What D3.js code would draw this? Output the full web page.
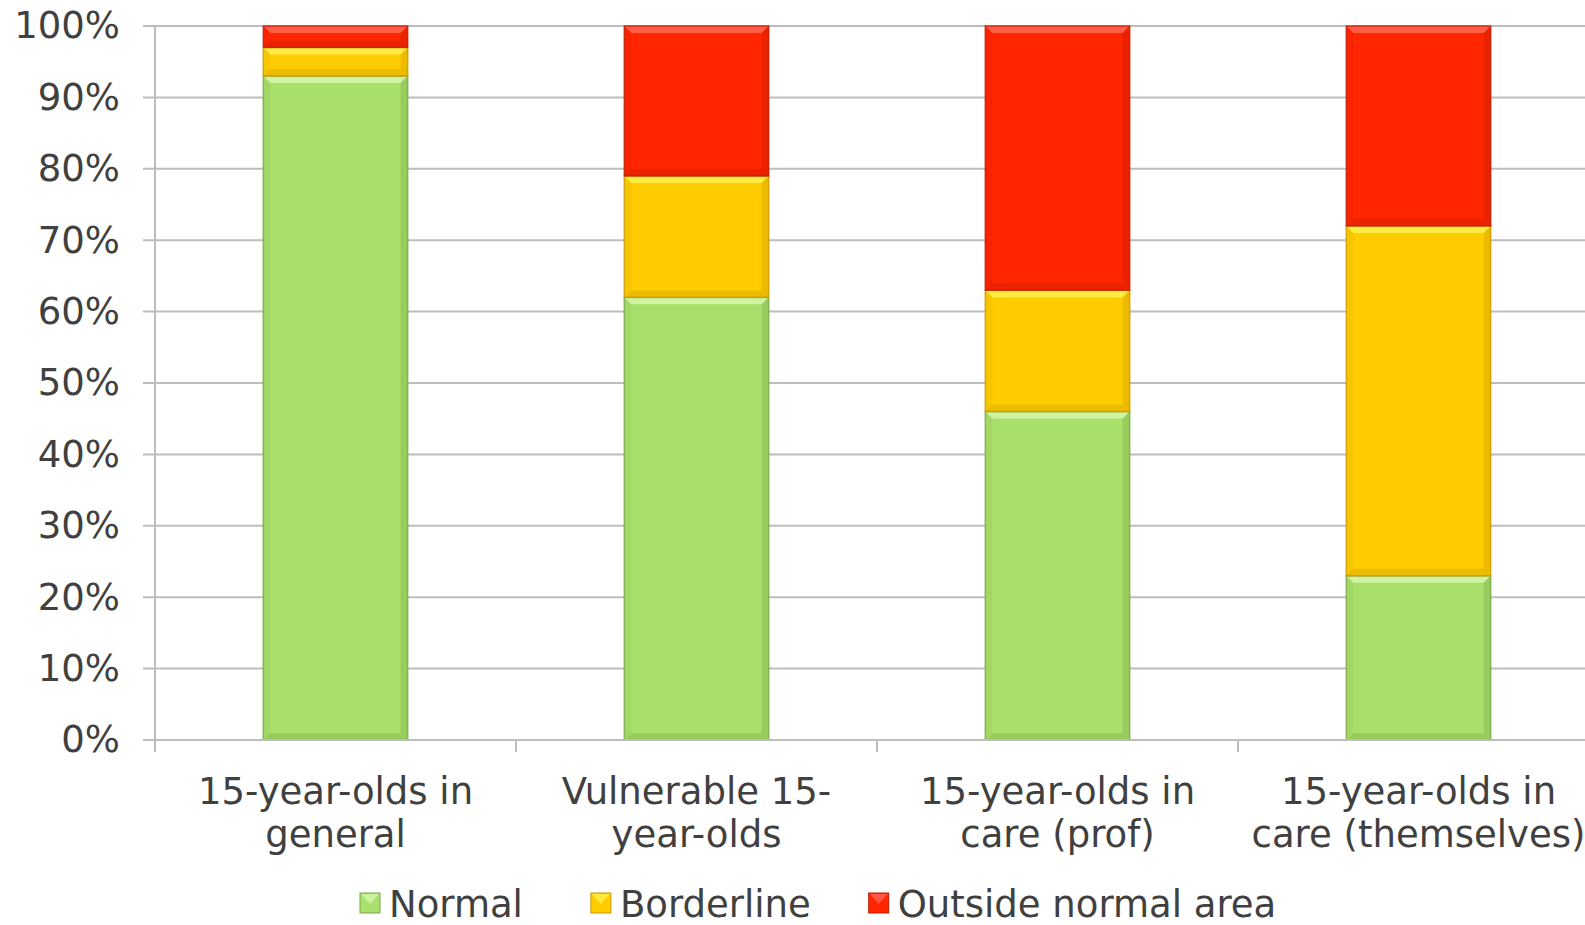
<!DOCTYPE html>
<html>
<head>
<meta charset="utf-8">
<script src="https://cdn.jsdelivr.net/npm/d3@7"></script>
<style>
  html, body { margin: 0; padding: 0; background: #fff; overflow: hidden; }
  svg { display: block; font-family: Verdana, "DejaVu Sans", sans-serif; }
</style>
</head>
<body>
<div id="chart"></div>
<script>
// Data
const categories = [
    "15-year-olds in general",
    "Vulnerable 15-year-olds",
    "15-year-olds in care (prof)",
    "15-year-olds in care (themselves)"
];
// how the axis labels wrap in the original
const categoryLines = [
    ["15-year-olds in", "general"],
    ["Vulnerable 15-", "year-olds"],
    ["15-year-olds in", "care (prof)"],
    ["15-year-olds in", "care (themselves)"]
];
const seriesNames = ["Normal", "Borderline", "Outside normal area"];
const normal = [93, 62, 46, 23];
const borderline = [4, 17, 17, 49];
const outside = [3, 21, 37, 28];
const yTicks = [0, 10, 20, 30, 40, 50, 60, 70, 80, 90, 100];

const colors = ["#a9df6b", "#ffcc00", "#ff2600"];
const lightColors = ["#d3f5a8", "#fff04a", "#ff6450"];
const darkColors = ["#79a94a", "#c99a00", "#c21c00"];

const width = 1585, height = 925;
const margin = { top: 26, right: -14, bottom: 185, left: 155 };
const innerW = width - margin.left - margin.right;
const innerH = height - margin.top - margin.bottom;

const svg = d3.select("#chart").append("svg")
    .attr("width", width)
    .attr("height", height);

const g = svg.append("g")
    .attr("transform", `translate(${margin.left}, ${margin.top})`);

const x = d3.scaleBand().domain(categories).range([0, innerW]).paddingInner(0.6).paddingOuter(0.3);
const xBand = d3.scaleBand().domain(categories).range([0, innerW]);
const y = d3.scaleLinear().domain([0, 100]).range([innerH, 0]);

// gridlines
g.append("g")
    .selectAll("line")
    .data(yTicks)
    .join("line")
    .attr("x1", -12)
    .attr("x2", innerW)
    .attr("y1", d => y(d))
    .attr("y2", d => y(d))
    .attr("stroke", "#bdbdbd")
    .attr("stroke-width", 2);

// y axis
const yAxis = d3.axisLeft(y).tickValues(yTicks).tickFormat(d => d + "%").tickSize(0).tickPadding(35);
const yAxisG = g.append("g").call(yAxis);
yAxisG.select(".domain").remove();
yAxisG.selectAll("text")
    .attr("fill", "#404040")
    .style("font-size", "37px")
    .style("font-family", "Verdana, 'DejaVu Sans', sans-serif");

g.append("line")
    .attr("x1", 0).attr("x2", 0)
    .attr("y1", 0).attr("y2", innerH)
    .attr("stroke", "#bdbdbd").attr("stroke-width", 2);

// x axis ticks between categories
const bounds = categories.map(c => xBand(c)).concat([innerW]);
g.append("g")
    .selectAll("line")
    .data(bounds)
    .join("line")
    .attr("x1", d => d).attr("x2", d => d)
    .attr("y1", innerH).attr("y2", innerH + 12)
    .attr("stroke", "#bdbdbd").attr("stroke-width", 2);

// stacked data
const table = categories.map((c, i) => ({
    category: c,
    Normal: normal[i],
    Borderline: borderline[i],
    "Outside normal area": outside[i]
}));
const stack = d3.stack().keys(seriesNames)(table);

const bevel = 7;
stack.forEach((layer, si) => {
    const segs = g.append("g").selectAll("g")
        .data(layer)
        .join("g");

    segs.each(function (d) {
        const sel = d3.select(this);
        const x0 = x(d.data.category);
        const w = x.bandwidth();
        const y0 = y(d[1]);
        const h = y(d[0]) - y(d[1]);
        const b = Math.min(bevel, h / 2);

        sel.append("rect")
            .attr("x", x0).attr("y", y0)
            .attr("width", w).attr("height", h)
            .attr("fill", colors[si]);
        // top bevel
        sel.append("path")
            .attr("d", `M${x0},${y0}L${x0 + w},${y0}L${x0 + w - b},${y0 + b}L${x0 + b},${y0 + b}Z`)
            .attr("fill", lightColors[si]).attr("opacity", 0.9);
        // bottom bevel
        sel.append("path")
            .attr("d", `M${x0},${y0 + h}L${x0 + w},${y0 + h}L${x0 + w - b},${y0 + h - b}L${x0 + b},${y0 + h - b}Z`)
            .attr("fill", darkColors[si]).attr("opacity", 0.35);
        // left bevel
        sel.append("path")
            .attr("d", `M${x0},${y0}L${x0 + b},${y0 + b}L${x0 + b},${y0 + h - b}L${x0},${y0 + h}Z`)
            .attr("fill", darkColors[si]).attr("opacity", 0.12);
        // right bevel
        sel.append("path")
            .attr("d", `M${x0 + w},${y0}L${x0 + w - b},${y0 + b}L${x0 + w - b},${y0 + h - b}L${x0 + w},${y0 + h}Z`)
            .attr("fill", darkColors[si]).attr("opacity", 0.35);
        sel.append("rect")
            .attr("x", x0).attr("y", y0)
            .attr("width", w).attr("height", h)
            .attr("fill", "none")
            .attr("stroke", darkColors[si])
            .attr("stroke-opacity", 0.8)
            .attr("stroke-width", 1.5);
    });
});

// x axis line
g.append("line")
    .attr("x1", 0).attr("x2", innerW)
    .attr("y1", innerH).attr("y2", innerH)
    .attr("stroke", "#bdbdbd").attr("stroke-width", 2);

// category labels
const labels = g.append("g")
    .selectAll("text")
    .data(categories)
    .join("text")
    .attr("text-anchor", "middle")
    .attr("fill", "#404040")
    .style("font-size", "37px")
    .attr("transform", d => `translate(${xBand(d) + xBand.bandwidth() / 2}, ${innerH + 64})`);

labels.selectAll("tspan")
    .data((d, i) => categoryLines[i])
    .join("tspan")
    .attr("x", 0)
    .attr("dy", (d, i) => i === 0 ? 0 : 43)
    .text(d => d);

// legend
const legend = svg.append("g").attr("transform", "translate(360, 903)");
let lx = 0;
seriesNames.forEach((name, i) => {
    const item = legend.append("g").attr("transform", `translate(${lx}, 0)`);
    item.append("rect")
        .attr("x", 0).attr("y", -10)
        .attr("width", 20).attr("height", 20)
        .attr("fill", colors[i])
        .attr("stroke", darkColors[i])
        .attr("stroke-width", 1);
    item.append("path")
        .attr("d", "M1,-9L19,-9L10,1Z")
        .attr("fill", lightColors[i])
        .attr("opacity", 0.8);
    const t = item.append("text")
        .attr("x", 29)
        .attr("y", 14)
        .attr("fill", "#404040")
        .style("font-size", "37px")
        .text(name);
    lx += 29 + t.node().getComputedTextLength() + (i === 0 ? 68 : 58);
});
</script>
</body>
</html>
